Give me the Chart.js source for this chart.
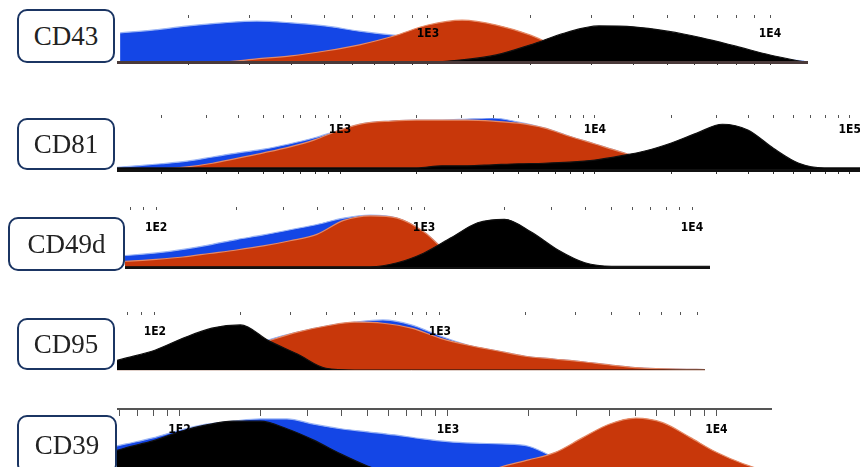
<!DOCTYPE html>
<html><head><meta charset="utf-8">
<script src="https://cdn.jsdelivr.net/npm/chart.js@4"></script>
<style>
html,body{margin:0;padding:0;background:#fff;width:862px;height:467px;overflow:hidden;position:relative}
.panel{position:absolute}
.tag{position:absolute;box-sizing:border-box;border:2px solid #1b3563;border-radius:10px;background:#fff;font-family:"Liberation Serif","DejaVu Serif",serif;font-size:27px;color:#222;display:flex;align-items:center;justify-content:center;z-index:5}
</style></head><body>
<script>
// ---- data: x = log10 fluorescence (decades), y = relative cell count (% of panel max)
const markers = ["CD43", "CD81", "CD49d", "CD95", "CD39"];

const cd43Log   = [2.1,2.2,2.3,2.4,2.5,2.6,2.7,2.8,2.9,3.0,3.1,3.2,3.3,3.4,3.5,3.6,3.7,3.8,3.9,4.0,4.1];
const cd43Blue  = [66,73,82,89,93,89,82,70,61,55,50,50,50,45,39,32,25,18,14,9,2];
const cd43Red   = [0,0,0,0,7,14,25,39,59,84,95,84,61,27,9,2,0,0,0,0,0];
const cd43Black = [0,0,0,0,0,0,0,0,0,0,5,16,39,66,82,80,70,55,36,16,0];

const cd81Log   = [2.1,2.2,2.3,2.4,2.5,2.6,2.7,2.8,2.9,3.0,3.1,3.2,3.3,3.4,3.5,3.6,3.7,3.8,3.9,4.0,4.1,4.2,4.3,4.4,4.5,4.6,4.7,4.8,4.9,5.0,5.1];
const cd81Blue  = [4,8,12,17,25,33,40,50,62,77,90,94,96,96,98,100,92,81,65,50,35,21,12,6,2,0,0,0,0,0,0];
const cd81Red   = [0,1,2,6,13,23,33,44,58,77,90,94,96,96,96,94,90,81,65,50,35,21,12,6,2,0,0,0,0,0,0];
const cd81Black = [4,4,4,4,4,4,4,4,4,4,4,4,4,8,8,10,12,13,15,19,27,37,52,71,88,77,42,13,4,4,4];

const cd49dLog   = [1.8,1.9,2.0,2.1,2.2,2.3,2.4,2.5,2.6,2.7,2.8,2.9,3.0,3.1,3.2,3.3,3.4,3.5,3.6,3.7,3.8,3.9,4.0,4.1];
const cd49dBlue  = [20,22,26,32,40,49,57,66,75,86,91,86,62,22,3,0,0,0,0,0,0,0,0,0];
const cd49dRed   = [10,12,15,19,25,31,38,47,58,82,90,86,62,22,3,0,0,0,0,0,0,0,0,0];
const cd49dBlack = [2,2,2,2,2,2,2,2,2,2,2,9,26,52,78,84,62,31,9,3,3,3,3,3];

const cd95Log   = [1.8,1.9,2.0,2.1,2.2,2.3,2.4,2.5,2.6,2.7,2.8,2.9,3.0,3.1,3.2,3.3,3.4,3.5,3.6,3.7,3.8,3.9,4.0];
const cd95Blue  = [0,0,0,0,0,36,55,69,80,87,91,82,62,45,35,25,20,15,9,4,2,1,0];
const cd95Red   = [0,0,0,0,0,36,53,69,80,87,85,76,58,45,35,25,20,15,9,4,2,1,0];
const cd95Black = [9,22,36,58,76,82,53,29,3,0,0,0,0,0,0,0,0,0,0,0,0,0,0];

const cd39Log   = [1.7,1.8,1.9,2.0,2.1,2.2,2.3,2.4,2.5,2.6,2.7,2.8,2.9,3.0,3.1,3.2,3.3,3.4,3.5,3.6,3.7,3.8,3.9,4.0,4.1,4.2,4.3];
const cd39Blue  = [46,54,62,72,80,84,87,87,80,74,70,66,61,57,55,54,51,35,15,4,0,0,0,0,0,0,0];
const cd39Red   = [0,0,0,0,0,0,0,0,0,0,0,0,0,0,12,24,33,43,62,80,88,82,63,43,28,17,7];
const cd39Black = [38,49,58,70,79,84,84,74,59,41,25,13,5,3,0,0,0,0,0,0,0,0,0,0,0,0,0];

// ---- layout (pixels) and axis ranges (decades)
const panels = [
  {x: cd43Log,  blue: cd43Blue,  red: cd43Red,  black: cd43Black,  left:117, right:808, top:18,  bottom:62,  min:2.091, max:4.111, labelDy:16, tick:3,  axisLine:false, base:{w:3, c:'#4a3a3a', t:3},
   tag:{l:17, t:9,   w:98,  h:54}},
  {x: cd81Log,  blue: cd81Blue,  red: cd81Red,  black: cd81Black,  left:117, right:860, top:118, bottom:170, min:2.125, max:5.04,  labelDy:12, tick:3,  axisLine:false, base:{w:3, c:'#111', t:4},
   tag:{l:17, t:118, w:98,  h:52}},
  {x: cd49dLog, blue: cd49dBlue, red: cd49dRed, black: cd49dBlack, left:125, right:710, top:210, bottom:268, min:1.884, max:4.067, labelDy:18, tick:3,  axisLine:false, base:{w:2, c:'#111', t:0},
   tag:{l:8,  t:217, w:117, h:54}},
  {x: cd95Log,  blue: cd95Blue,  red: cd95Red,  black: cd95Black,  left:117, right:705, top:315, bottom:370, min:1.867, max:3.93,  labelDy:17, tick:3,  axisLine:false, base:{w:1, c:'#e0cfc8', t:0},
   tag:{l:17, t:318, w:98,  h:52}},
  {x: cd39Log,  blue: cd39Blue,  red: cd39Red,  black: cd39Black,  left:117, right:772, top:409, bottom:485, min:1.767, max:4.207, labelDy:21, tick:-7, axisLine:true,  base:{w:0, c:'#fff', t:0},
   tag:{l:17, t:415, w:100, h:60}}
];

function decadeTicks(min, max) {
  const t = [];
  for (let d = Math.floor(min); d <= Math.ceil(max); d++) {
    for (let k = 1; k <= 9; k++) {
      const v = d + Math.log10(k);
      if (v >= min && v <= max) t.push({value: v});
    }
  }
  return t;
}
function pts(xs, ys) { return xs.map((x, i) => ({x: x, y: ys[i]})); }

panels.forEach((p, idx) => {
  const T = Math.max(p.tick, 2);
  const B = Math.max(p.base.t, p.base.w, 1);
  const div = document.createElement('div');
  div.className = 'panel';
  div.style.left = p.left + 'px';
  div.style.top = (p.top - T) + 'px';
  div.style.width = (p.right - p.left) + 'px';
  div.style.height = (p.bottom - p.top + T + B) + 'px';
  const cv = document.createElement('canvas');
  div.appendChild(cv);
  document.body.appendChild(div);

  const tag = document.createElement('div');
  tag.className = 'tag';
  tag.textContent = markers[idx];
  tag.style.left = p.tag.l + 'px';
  tag.style.top = p.tag.t + 'px';
  tag.style.width = p.tag.w + 'px';
  tag.style.height = p.tag.h + 'px';
  document.body.appendChild(tag);

  new Chart(cv, {
    type: 'line',
    data: {datasets: [
      {data: pts(p.x, p.black), backgroundColor: '#000000', borderColor: '#111111', fill: 'origin'},
      {data: pts(p.x, p.red),   backgroundColor: '#c8370a', borderColor: '#e58a66', fill: 'origin'},
      {data: pts(p.x, p.blue),  backgroundColor: '#1446e6', borderColor: '#9bb5f5', fill: 'origin'}
    ]},
    options: {
      animation: false, responsive: true, maintainAspectRatio: false, devicePixelRatio: 1,
      layout: {padding: 0},
      elements: {point: {radius: 0}, line: {borderWidth: 1.2, tension: 0.4, cubicInterpolationMode: 'monotone'}},
      plugins: {legend: {display: false}, tooltip: {enabled: false}},
      scales: {
        x: {
          type: 'linear', position: 'top', min: p.min, max: p.max,
          afterBuildTicks: s => { s.ticks = decadeTicks(p.min, p.max); },
          afterFit: s => { s.height = T; s.paddingLeft = 0; s.paddingRight = 0; },
          grid: {drawOnChartArea: false, drawTicks: true, tickLength: p.tick, tickColor: '#555', tickWidth: 1},
          border: {display: p.axisLine, color: '#555', width: 2},
          ticks: {z: 1, autoSkip: false, maxRotation: 0, minRotation: 0, mirror: true, padding: p.labelDy - 7, color: '#000',
                  font: {size: 12, weight: 'bold', family: '"Liberation Sans Narrow","DejaVu Sans Condensed",sans-serif'},
                  callback: v => Number.isInteger(v) ? '1E' + v : ''}
        },
        x2: {
          type: 'linear', axis: 'x', position: 'bottom', min: p.min, max: p.max,
          afterBuildTicks: s => { s.ticks = decadeTicks(p.min, p.max); },
          afterFit: s => { s.height = B; s.paddingLeft = 0; s.paddingRight = 0; },
          grid: {drawOnChartArea: false, drawTicks: p.base.t > 0, tickLength: p.base.t, tickColor: '#333'},
          border: {display: p.base.w > 0, color: p.base.c, width: p.base.w, z: 1},
          ticks: {display: false}
        },
        y: {display: false, min: 0, max: 100}
      }
    }
  });
});
</script>
</body></html>
